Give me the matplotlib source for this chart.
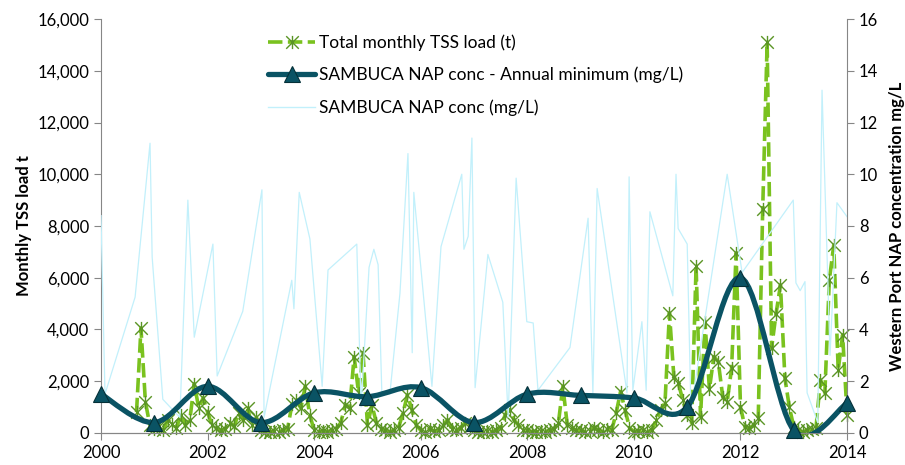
import numpy as np
import pandas as pd
import matplotlib
matplotlib.use('Agg')
import matplotlib.pyplot as plt
from matplotlib.path import Path
from matplotlib.patches import PathPatch
from matplotlib.lines import Line2D
from matplotlib.ticker import FuncFormatter

plt.rcParams['font.family'] = ['Lato', 'DejaVu Sans']

# Total monthly TSS load (t), Sep 2000 .. Jan 2014
tss_2000 = [800, 4050, 1200, 300]
tss_2001 = [150, 250, 100, 500, 350, 200, 700, 300, 500, 1900, 970, 1350]
tss_2002 = [800, 300, 200, 100, 150, 400, 250, 770, 500, 950, 300, 600]
tss_2003 = [100, 50, 30, 80, 50, 100, 150, 1100, 1270, 960, 1800, 700]
tss_2004 = [100, 50, 80, 50, 100, 150, 400, 1080, 970, 2950, 1550, 3100]
tss_2005 = [300, 1080, 400, 150, 100, 50, 100, 200, 770, 1470, 900, 300]
tss_2006 = [100, 50, 150, 80, 100, 300, 500, 150, 100, 200, 400, 250]
tss_2007 = [100, 50, 30, 80, 50, 100, 200, 700, 900, 500, 300, 100]
tss_2008 = [100, 50, 30, 80, 50, 100, 150, 390, 1800, 300, 200, 100]
tss_2009 = [100, 50, 80, 200, 100, 50, 150, 100, 770, 1600, 900, 200]
tss_2010 = [50, 80, 100, 50, 100, 500, 900, 1160, 4640, 2160, 1930, 1270]
tss_2011 = [700, 390, 6450, 620, 4300, 1700, 2950, 2750, 1400, 1200, 2500, 6950]
tss_2012 = [1000, 230, 190, 300, 580, 8650, 15100, 3280, 4600, 5720, 2120, 1000]
tss_2013 = [230, 100, 50, 100, 150, 200, 2050, 1550, 5910, 7260, 2430, 3790]
tss_2014 = [700]
tss_load = (tss_2000 + tss_2001 + tss_2002 + tss_2003 + tss_2004 + tss_2005 + tss_2006
            + tss_2007 + tss_2008 + tss_2009 + tss_2010 + tss_2011 + tss_2012 + tss_2013 + tss_2014)
months = pd.date_range('2000-09-01', '2014-01-01', freq='MS')
tss_x = months.year + (months.month - 1) / 12.0

# SAMBUCA NAP annual minimum (mg/L)
min_years = [2000, 2001, 2002, 2003, 2004, 2005, 2006, 2007, 2008, 2009, 2010, 2011, 2012, 2013, 2014]
min_conc = [1.5, 0.4, 1.8, 0.4, 1.55, 1.4, 1.75, 0.4, 1.5, 1.45, 1.35, 1.0, 6.0, 0.1, 1.15]

# SAMBUCA NAP conc (mg/L), image dates as decimal years
nap_x = [2000.00, 2000.075, 2000.64, 2000.92, 2000.96, 2001.16, 2001.48, 2001.63, 2001.75,
         2002.10, 2002.18, 2002.66, 2003.02, 2003.06, 2003.58, 2003.62, 2003.72, 2003.92,
         2004.15, 2004.26, 2004.80, 2004.88, 2005.03, 2005.12, 2005.20, 2005.27, 2005.42,
         2005.61, 2005.76, 2005.84, 2005.87, 2006.21, 2006.38, 2006.77, 2006.81, 2006.89,
         2006.96, 2007.02, 2007.26, 2007.54, 2007.64, 2007.79, 2007.99, 2008.11, 2008.20,
         2008.80, 2009.14, 2009.23, 2009.31, 2009.87, 2009.91, 2009.98, 2010.15, 2010.23,
         2010.30, 2010.73, 2010.79, 2010.83, 2011.00, 2011.07, 2011.75, 2012.03, 2012.99,
         2013.04, 2013.12, 2013.21, 2013.25, 2013.45, 2013.53, 2013.64, 2013.68, 2013.81,
         2014.02, 2014.04]
nap_conc = [8.4, 1.5, 5.25, 11.2, 6.8, 1.3, 0.6, 9.0, 3.7,
            7.3, 2.2, 4.7, 9.4, 0.6, 5.9, 4.8, 9.3, 7.5,
            1.8, 6.3, 7.3, 1.0, 6.4, 7.1, 6.5, 1.55, 1.5,
            5.4, 10.8, 3.1, 9.3, 1.8, 7.2, 10.0, 7.1, 7.6,
            11.4, 1.75, 6.9, 5.05, 0.6, 9.85, 4.3, 4.25, 1.65,
            3.3, 8.3, 1.55, 9.45, 1.55, 9.9, 1.65, 4.3, 1.65,
            8.55, 5.3, 10.0, 7.9, 7.3, 0.9, 10.0, 6.2, 9.0,
            5.8, 5.5, 5.85, 1.55, 0.4, 13.25, 5.8, 3.0, 8.9,
            8.3, 3.6]

green = '#7AC21F'
green_dark = '#5A9424'
teal = '#0A5364'
light_blue = '#C2F0FB'
spine_col = '#868686'


def smooth_path(xs, ys):
    # Excel-style smoothed line: Catmull-Rom as cubic Bezier segments
    pts = np.column_stack([xs, ys]).astype(float)
    ext = np.vstack([pts[0], pts, pts[-1]])
    verts = [tuple(pts[0])]
    codes = [Path.MOVETO]
    for i in range(len(pts) - 1):
        p0, p1, p2, p3 = ext[i], ext[i + 1], ext[i + 2], ext[i + 3]
        c1 = p1 + (p2 - p0) / 6.0
        c2 = p2 - (p3 - p1) / 6.0
        verts += [tuple(c1), tuple(c2), tuple(p2)]
        codes += [Path.CURVE4] * 3
    return Path(verts, codes)


# Excel "star" marker: an X with a vertical stroke
star = Path([(-1, -1), (1, 1), (-1, 1), (1, -1), (0, -1.05), (0, 1.05)],
            [Path.MOVETO, Path.LINETO, Path.MOVETO, Path.LINETO, Path.MOVETO, Path.LINETO])

fig, ax1 = plt.subplots(figsize=(9.05, 4.65), dpi=100)
fig.subplots_adjust(left=0.1116, right=0.936, bottom=0.069, top=0.959)

ax1.plot(tss_x, tss_load, color=green, lw=2.6, dashes=(4.0, 1.5),
         marker=star, ms=9.5, mfc='none', mec=green_dark, mew=1.0, zorder=2, clip_on=False)

ax2 = ax1.twinx()
ax2.plot(nap_x, nap_conc, color=light_blue, lw=0.9, zorder=1)
ax2.add_patch(PathPatch(smooth_path(min_years, min_conc), fill=False, edgecolor=teal,
                        lw=3.8, capstyle='round', zorder=3))
ax2.plot(min_years, min_conc, linestyle='none', marker='^', ms=12, color=teal,
         mec='#053038', mew=0.8, zorder=4, clip_on=False)

ax1.set_xlim(2000, 2014)
ax1.set_ylim(0, 16000)
ax2.set_ylim(0, 16)
ax1.set_xticks(range(2000, 2015, 2))
ax1.set_yticks(range(0, 16001, 2000))
ax2.set_yticks(range(0, 17, 2))
ax1.yaxis.set_major_formatter(FuncFormatter(lambda v, p: f'{v:,.0f}'))

for ax in (ax1, ax2):
    ax.spines['top'].set_visible(False)
    for s in ('left', 'right', 'bottom'):
        ax.spines[s].set_color(spine_col)
    ax.tick_params(colors=spine_col, labelcolor='black', labelsize=12, length=5, direction='out')
ax2.spines['left'].set_visible(False)
ax1.spines['right'].set_visible(False)

ax1.set_ylabel('Monthly TSS load t', fontsize=12, fontweight='bold', labelpad=4)
ax2.set_ylabel('Western Port NAP concentration mg/L', fontsize=12, fontweight='bold', labelpad=8)

handles = [
    Line2D([], [], color=green, lw=2.6, dashes=(4.0, 1.5), marker=star, ms=9.5,
           mfc='none', mec=green_dark, mew=1.0),
    Line2D([], [], color=teal, lw=3.8, marker='^', ms=12, mec='#053038', mew=0.8,
           solid_capstyle='round'),
    Line2D([], [], color=light_blue, lw=1.0),
]
labels = ['Total monthly TSS load (t)', 'SAMBUCA NAP conc - Annual minimum (mg/L)',
          'SAMBUCA NAP conc (mg/L)']
ax2.legend(handles, labels, loc='upper left', bbox_to_anchor=(0.203, 1.0), frameon=False,
           fontsize=12.5, handlelength=2.7, handletextpad=0.25, labelspacing=0.9)

fig.savefig('out.png', dpi=100)
